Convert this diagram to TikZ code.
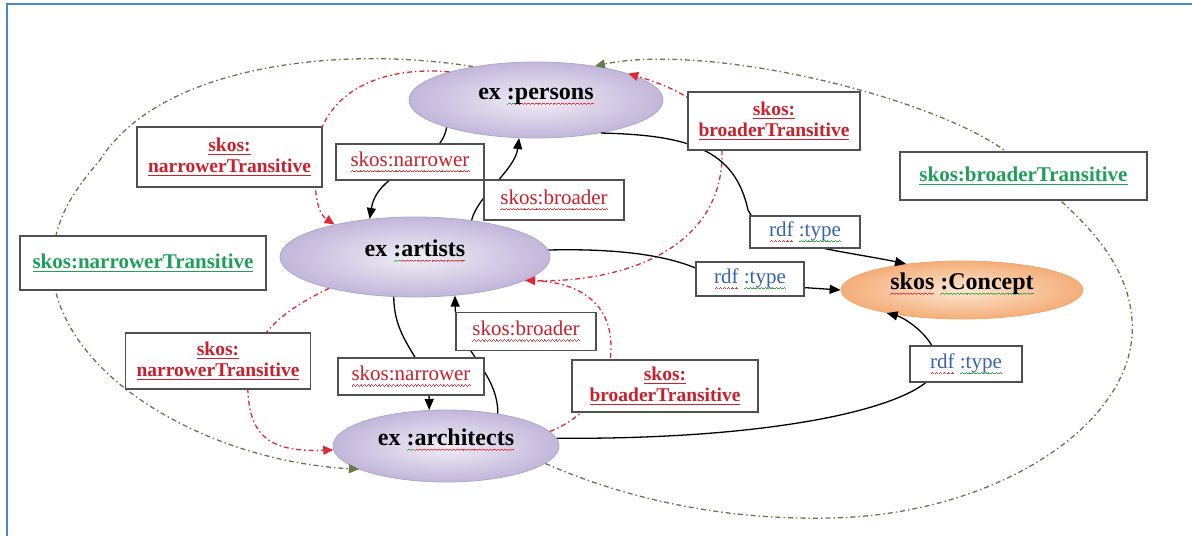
\documentclass[tikz,border=0pt]{standalone}
\usepackage{fontspec}
\setmainfont{Liberation Serif}
\usetikzlibrary{arrows.meta,shapes.geometric}

\definecolor{frameblue}{HTML}{4A86C8}
\definecolor{lblred}{HTML}{C8202C}
\definecolor{linered}{HTML}{DD2A35}
\definecolor{lineolive}{HTML}{65794A}
\definecolor{lblgreen}{HTML}{1F9E5C}
\definecolor{lblblue}{HTML}{3565A8}
\definecolor{sqred}{HTML}{E8343C}
\definecolor{sqgreen}{HTML}{3BA84A}
\definecolor{boxgray}{HTML}{505050}
\definecolor{lavin}{HTML}{F1EEF6}
\definecolor{lavout}{HTML}{C2B6DA}
\definecolor{lavrim}{HTML}{B2A6CC}
\definecolor{orgin}{HTML}{FDE6D3}
\definecolor{orgout}{HTML}{F4AE78}
\definecolor{orgrim}{HTML}{EFA872}

% small zigzag cell repeated under a word (spell-check squiggle)
\newcommand{\wavcell}{\hbox{%
  \rule[-5.6pt]{0.9pt}{0.8pt}\rule[-4.9pt]{0.9pt}{0.8pt}%
  \rule[-4.2pt]{0.9pt}{0.8pt}\rule[-4.9pt]{0.9pt}{0.8pt}}}
\newcommand{\wavline}[2]{\setbox0\hbox{#2}%
  \rlap{\hbox to \wd0{{\color{#1}\xleaders\wavcell\hfil}}}\box0\relax}
\newcommand{\wavr}[1]{\wavline{sqred}{#1}}
\newcommand{\wavg}[1]{\wavline{sqgreen}{#1}}
% solid link underline in the text colour
\newcommand{\lnk}[1]{\setbox0\hbox{#1}\rlap{\rule[-2.6pt]{\wd0}{1pt}}\box0\relax}

\tikzset{
  concept/.style={ellipse, inner sep=0pt, text height=10pt, text depth=11.5pt,
    font=\fontsize{24}{27}\selectfont\bfseries},
  classnode/.style={concept, draw=lavrim, line width=0.8pt,
    inner color=lavin, outer color=lavout},
  topnode/.style={concept, draw=orgrim, line width=0.8pt,
    inner color=orgin, outer color=orgout},
  lbl/.style={rectangle, draw=boxgray, line width=1.3pt, fill=white,
    inner sep=0pt, align=center},
  plainlbl/.style={lbl, text=lblred, font=\fontsize{21}{24}\selectfont},
  translbl/.style={lbl, text=lblred, font=\fontsize{19.5}{21}\selectfont\bfseries},
  greenlbl/.style={lbl, text=lblgreen, font=\fontsize{21}{24}\selectfont\bfseries},
  typelbl/.style={lbl, text=lblblue, font=\fontsize{21}{24}\selectfont},
  rel/.style={draw=black, line width=1.3pt, -{Triangle[length=11pt,width=9pt]}},
  trans/.style={draw=linered, line width=1.3pt,
    dash pattern=on 5pt off 3pt on 1.5pt off 3pt,
    -{Triangle[length=10pt,width=9pt]}},
  outer/.style={draw=lineolive, line width=1.3pt,
    dash pattern=on 5pt off 3pt on 1.5pt off 3pt,
    -{Triangle[length=10pt,width=9pt]}},
}

\begin{document}
\begin{tikzpicture}[x=1pt, y=-1pt]
\useasboundingbox (0,0) rectangle (1192,536);

% page frame
\draw[frameblue, line width=1.2pt] (7,536) -- (7,4) -- (1192,4);

% concepts
\node[classnode, minimum width=254pt, minimum height=76pt] (persons) at (536,100)
  {ex \wavg{:}\wavr{persons}};
\node[classnode, minimum width=270pt, minimum height=80pt] (artists) at (415,257)
  {ex \wavg{:}\wavr{artists}};
\node[classnode, minimum width=226pt, minimum height=72pt] (architects) at (446,446)
  {ex \wavg{:}\wavr{architects}};
\node[topnode, minimum width=242pt, minimum height=58pt] (concept) at (962,290)
  {\wavr{skos} \wavg{:Concept}};

% outer transitive links
\draw[outer] (architects.350) .. controls (640,505) and (740,520) .. (830,518)
  .. controls (1000,515) and (1140,420) .. (1132,320)
  .. controls (1128,260) and (1080,215) .. (1030,175)
  .. controls (990,110) and (720,40) .. (persons.30);
\draw[outer] (persons.152) .. controls (340,45) and (160,65) .. (100,160)
  .. controls (70,195) and (55,220) .. (52,262)
  .. controls (52,370) and (200,460) .. (architects.195);

% transitive links between neighbours
\draw[trans] (persons.162) .. controls (370,65) and (322,100) .. (316,150)
  .. controls (312,200) and (320,215) .. (artists.158);
\draw[trans] (artists.348) .. controls (620,285) and (725,250) .. (722,150)
  .. controls (720,120) and (700,95) .. (persons.16);
\draw[trans] (architects.8) .. controls (580,420) and (612,390) .. (611,345)
  .. controls (610,300) and (575,282) .. (artists.348);
\draw[trans] (artists.200) .. controls (295,305) and (262,325) .. (252,360)
  .. controls (246,380) and (246,385) .. (248,392)
  .. controls (250,440) and (275,452) .. (architects.182);

% direct links
\draw[rel] (persons.197) .. controls (441,165) and (378,168) .. (artists.140);
\draw[rel] (artists.33) .. controls (478,195) and (515,170) .. (persons.246);
\draw[rel] (artists.242) .. controls (394,345) and (429,360) .. (architects.115);
\draw[rel] (architects.32) .. controls (498,370) and (456,350) .. (artists.316);

% rdf:type links
\draw[rel] (persons.333) .. controls (690,135) and (735,150) .. (748,210)
  .. controls (765,245) and (840,250) .. (concept.155);
\draw[rel] (artists.3) .. controls (630,248) and (690,258) .. (720,282)
  -- (concept.west);
\draw[rel] (architects.4) .. controls (800,440) and (945,400) .. (938,360)
  .. controls (932,335) and (905,318) .. (concept.197);

% edge labels
\node[translbl, minimum width=185pt, minimum height=60pt] (nt1) at (229.5,157)
  {\lnk{skos:}\\\lnk{narrowerTransitive}};
\node[plainlbl, minimum width=148pt, minimum height=36pt] (nar1) at (410,162)
  {\wavr{skos:narrower}};
\node[plainlbl, minimum width=140pt, minimum height=40pt] (br1) at (554,200)
  {\wavr{skos:broader}};
\node[translbl, minimum width=172pt, minimum height=58pt] (bt1) at (774,121)
  {\lnk{skos:}\\\lnk{broaderTransitive}};
\node[greenlbl, minimum width=247pt, minimum height=48pt] (gbt) at (1023.5,176)
  {\lnk{skos:broaderTransitive}};
\node[greenlbl, minimum width=246pt, minimum height=54pt] (gnt) at (143,263)
  {\lnk{skos:narrowerTransitive}};
\node[typelbl, minimum width=110pt, minimum height=32pt] (rt1) at (805,232)
  {\wavr{rdf} \wavg{:type}};
\node[typelbl, minimum width=108pt, minimum height=34pt] (rt2) at (750,279)
  {\wavr{rdf} \wavg{:type}};
\node[translbl, minimum width=185pt, minimum height=56pt] (nt2) at (218,361)
  {\lnk{skos:}\\\lnk{narrowerTransitive}};
\node[plainlbl, minimum width=146pt, minimum height=37pt] (nar2) at (411,376.5)
  {\wavr{skos:narrower}};
\node[plainlbl, minimum width=140pt, minimum height=38pt] (br2) at (526,331.5)
  {\wavr{skos:broader}};
\node[translbl, minimum width=186pt, minimum height=52pt] (bt2) at (665,386)
  {\lnk{skos:}\\\lnk{broaderTransitive}};
\node[typelbl, minimum width=112pt, minimum height=36pt] (rt3) at (966,364)
  {\wavr{rdf} \wavg{:type}};
\end{tikzpicture}
\end{document}
